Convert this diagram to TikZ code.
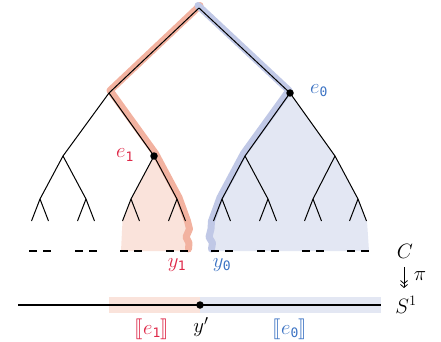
\documentclass[tikz,border=0pt]{standalone}
\usepackage{fontspec}
\usepackage{stmaryrd}
\newfontfamily\monof{DejaVu Sans Mono}
\usetikzlibrary{arrows.meta}
\definecolor{tred}{RGB}{222,40,72}
\definecolor{tblue}{RGB}{60,115,195}
\definecolor{bandred}{RGB}{242,178,160}
\definecolor{fillred}{RGB}{250,227,219}
\definecolor{bandblue}{RGB}{192,200,230}
\definecolor{fillblue}{RGB}{227,231,243}
\newcommand\msub[1]{_{\hbox{\monof\fontsize{13}{13}\selectfont #1}}}
\tikzset{
  lab/.style={inner sep=0pt, font=\fontsize{20}{22}\selectfont},
  edge/.style={line width=1pt, black},
  band/.style={line width=7pt, line join=round, line cap=round},
  pairdash/.style={line width=1.4pt, dash pattern=on 8pt off 6pt},
  vdot/.style={circle, fill=black, inner sep=0pt, minimum size=7.5pt},
}
\begin{document}
\begin{tikzpicture}[x=1pt,y=-1pt]
\useasboundingbox (0,0) rectangle (441,342);
% tree vertices
\coordinate (r) at (199,8);
\coordinate (a) at (109,93);
\coordinate (b) at (290,93);
\coordinate (aa) at (63,156);
\coordinate (ab) at (154,156);
\coordinate (ba) at (245,156);
\coordinate (bb) at (335,156);
\foreach \i/\x in {1/40,2/86,3/131,4/177,5/222,6/268,7/313,8/358}{
  \coordinate (t\i) at (\x,199);
  \coordinate (t\i l) at (\x-8.5,221);
  \coordinate (t\i r) at (\x+8.5,221);
  \coordinate (d\i) at (\x,251);
}
% shaded regions
\fill[fillred] (ab) -- (t3) -- (t3l) -- (121,251) -- (188,251) -- (189,243) -- (185,236) -- (189,228) -- (t4r) -- (t4) -- cycle;
\fill[fillblue] (b) -- (ba) -- (t5) -- (t5l) -- (210,233) -- (213,242) -- (212,251) -- (369,251) -- (367,221) -- (t8r) -- (t8) -- (bb) -- cycle;
% bands
\draw[band, bandred] ([shift={(1,-2.5)}]r) -- ([shift={(1,-2.5)}]a) -- ([shift={(1.5,-2.5)}]ab) -- ([shift={(2,-1.5)}]t4) -- ([shift={(2,0)}]t4r) -- (189.5,229) -- (186,237) -- (189,243) -- (188.5,249);
\draw[band, bandblue] ([shift={(-1,-2.5)}]r) -- ([shift={(-1,-2.5)}]b) -- ([shift={(-1.5,-2.5)}]ba) -- ([shift={(-2,-1.5)}]t5) -- ([shift={(-2,0)}]t5l) -- (211,229) -- (209,237) -- (212.5,243) -- (211.5,249);
% tree edges
\draw[edge] (r) -- (a); \draw[edge] (r) -- (b);
\draw[edge] (a) -- (aa); \draw[edge] (a) -- (ab);
\draw[edge] (b) -- (ba); \draw[edge] (b) -- (bb);
\draw[edge] (aa) -- (t1); \draw[edge] (aa) -- (t2);
\draw[edge] (ab) -- (t3); \draw[edge] (ab) -- (t4);
\draw[edge] (ba) -- (t5); \draw[edge] (ba) -- (t6);
\draw[edge] (bb) -- (t7); \draw[edge] (bb) -- (t8);
\foreach \i in {1,...,8}{
  \draw[edge] (t\i) -- (t\i l);
  \draw[edge] (t\i) -- (t\i r);
  \draw[pairdash] ([xshift=-11pt]d\i) -- ([xshift=11pt]d\i);
}
\node[vdot] (de1) at (ab) {};
\node[vdot] (de0) at (b) {};
% labels on tree
\node[lab, text=tred] (le1) at (125,155) {$e\msub{1}$};
\node[lab, text=tblue] (le0) at (319,91) {$e\msub{0}$};
\node[lab, text=tred] (ly1) at (177,265) {$y\msub{1}$};
\node[lab, text=tblue] (ly0) at (222,265) {$y\msub{0}$};
% right column
\node[lab] (C) at (405,251) {$C$};
\coordinate (pt) at (404,267);
\coordinate (pb) at (404,288);
\draw[line width=0.8pt, -{Straight Barb[length=3pt,width=7pt]Straight Barb[length=3pt,width=7pt]}] (pt) -- (pb);
\node[lab] (pi) at (420,276) {$\pi$};
\node[lab] (S) at (406,305) {$S^1$};
% circle line
\fill[fillred] (109,297) rectangle (200,313);
\fill[fillblue] (200,297) rectangle (381,313);
\coordinate (s0) at (18,305);
\coordinate (s1) at (381,305);
\draw[line width=1.6pt] (s0) -- (s1);
\node[vdot] (yp) at (200,305) {};
\node[lab, text=tred] (be1) at (152,329) {$\llbracket e\msub{1}\rrbracket$};
\node[lab] (lyp) at (201,327) {$y'$};
\node[lab, text=tblue] (be0) at (290,329) {$\llbracket e\msub{0}\rrbracket$};
\end{tikzpicture}
\end{document}
